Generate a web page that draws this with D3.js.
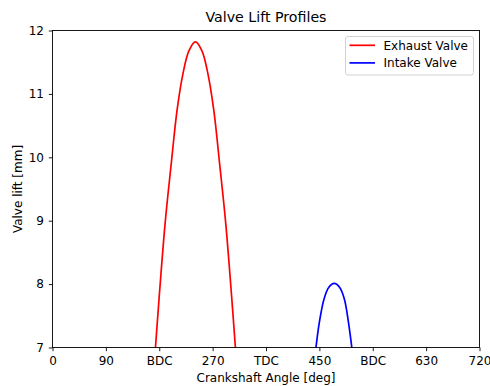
<!DOCTYPE html>
<html>
<head>
<meta charset="utf-8">
<script src="https://cdn.jsdelivr.net/npm/d3@7"></script>
<style>
  html, body { margin: 0; padding: 0; background: #fff; }
  svg { display: block; font-family: "DejaVu Sans", sans-serif; }
</style>
</head>
<body>
<svg id="chart" width="490" height="386"></svg>
<script>
// ---- data ----
const exhaustAngle = [172, 180, 190, 200, 210, 220, 230, 241, 252, 262, 272, 282, 292, 302, 310];
const exhaustLift  = [6.79, 7.81, 8.97, 9.88, 10.74, 11.32, 11.68, 11.82, 11.68, 11.32, 10.74, 9.88, 8.97, 7.81, 6.79];
const intakeAngle  = [443, 450, 458, 466, 475, 484, 492, 499, 506];
const intakeLift   = [6.9, 7.4, 7.77, 7.95, 8.01, 7.95, 7.77, 7.4, 6.9];
const xTickValues  = [0, 90, 180, 270, 360, 450, 540, 630, 720];
const xTickLabels  = ["0", "90", "BDC", "270", "TDC", "450", "BDC", "630", "720"];
const yTickValues  = [7, 8, 9, 10, 11, 12];
const seriesNames  = ["Exhaust Valve", "Intake Valve"];
const seriesColors = ["#ff0000", "#0000ff"];

// ---- layout ----
const svg = d3.select("#chart");
const L = 52.5, R = 479.5, T = 30.5, B = 347.5;
const x = d3.scaleLinear().domain([0, 720]).range([L, R]);
const y = d3.scaleLinear().domain([7, 12]).range([B, T]);

svg.append("defs").append("clipPath").attr("id", "clip")
  .append("rect").attr("x", L).attr("y", T).attr("width", R - L).attr("height", B - T);

const series = [
  exhaustAngle.map((a, i) => [a, exhaustLift[i]]),
  intakeAngle.map((a, i) => [a, intakeLift[i]])
];

const line = d3.line().x(d => x(d[0])).y(d => y(d[1])).curve(d3.curveCatmullRom.alpha(0.5));

const g = svg.append("g").attr("clip-path", "url(#clip)");
series.forEach((s, i) => {
  g.append("path").datum(s)
    .attr("d", line)
    .attr("fill", "none")
    .attr("stroke", seriesColors[i])
    .attr("stroke-width", 1.7);
});

// axes
const xAxis = d3.axisBottom(x).tickValues(xTickValues)
  .tickFormat((d, i) => xTickLabels[i]).tickSize(3.7).tickPadding(5.3);
const yAxis = d3.axisLeft(y).tickValues(yTickValues)
  .tickFormat(d3.format("d")).tickSize(3.7).tickPadding(4.8);

const gx = svg.append("g").attr("transform", `translate(0,${B})`).call(xAxis);
const gy = svg.append("g").attr("transform", `translate(${L},0)`).call(yAxis);
[gx, gy].forEach(a => {
  a.select(".domain").remove();
  a.selectAll("line").attr("stroke", "#000").attr("stroke-width", 0.9);
  a.selectAll("text").attr("fill", "#000").style("font-size", "12px").style("font-family", "DejaVu Sans");
});

// frame
svg.append("rect").attr("x", L).attr("y", T).attr("width", R - L).attr("height", B - T)
  .attr("fill", "none").attr("stroke", "#000").attr("stroke-width", 0.9);

// title & labels
svg.append("text").attr("x", (L + R) / 2).attr("y", 21.8).attr("text-anchor", "middle")
  .style("font-size", "14.2px").text("Valve Lift Profiles");
svg.append("text").attr("x", (L + R) / 2).attr("y", 382).attr("text-anchor", "middle")
  .style("font-size", "12px").text("Crankshaft Angle [deg]");
svg.append("text").attr("transform", `translate(22,${(T + B) / 2}) rotate(-90)`).attr("text-anchor", "middle")
  .style("font-size", "12px").text("Valve lift [mm]");

// legend
const lg = svg.append("g");
lg.append("rect").attr("x", 345.5).attr("y", 36.5).attr("width", 128).attr("height", 38.5)
  .attr("rx", 2.5).attr("fill", "#fff").attr("fill-opacity", 0.8)
  .attr("stroke", "#cccccc").attr("stroke-width", 0.9);
seriesNames.forEach((n, i) => {
  const yy = 45.3 + i * 17.6;
  lg.append("line").attr("x1", 349.5).attr("x2", 375).attr("y1", yy).attr("y2", yy)
    .attr("stroke", seriesColors[i]).attr("stroke-width", 1.7);
  lg.append("text").attr("x", 383.5).attr("y", yy).attr("dy", "0.36em")
    .style("font-size", "12px").text(n);
});
</script>
</body>
</html>
